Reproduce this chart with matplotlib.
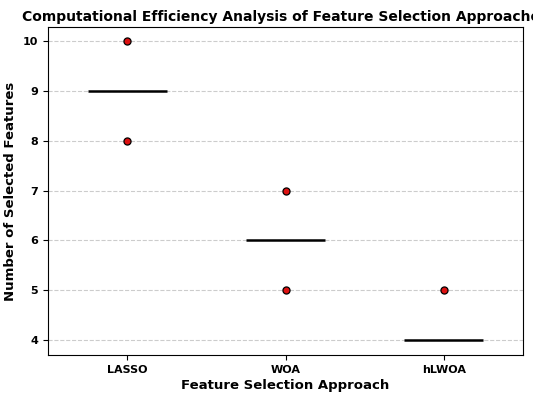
import matplotlib
matplotlib.use('Agg')
from matplotlib import pyplot as plt

approaches = ['LASSO', 'WOA', 'hLWOA']
point_x = [0, 0, 1, 1, 2]
point_y = [10, 8, 7, 5, 5]
median_vals = [9, 6, 4]

fig = plt.figure(figsize=(5.33, 4.0), dpi=100)
ax = fig.add_axes([48/533, 45/400, 475/533, 328/400])

ax.grid(axis='y', linestyle='--', color='#cccccc', linewidth=0.8)
ax.set_axisbelow(True)
for i, m in enumerate(median_vals):
    ax.hlines(m, i - 0.25, i + 0.25, color='black', linewidth=1.8)
ax.scatter(point_x, point_y, s=26, color='#dd1111', edgecolor='black', linewidth=0.9, zorder=3)

ax.set_xlim(-0.5, 2.5)
ax.set_ylim(3.7, 10.28)
ax.set_xticks(range(len(approaches)))
ax.set_xticklabels(approaches, fontweight='bold', fontsize=8)
ax.set_yticks(range(4, 11))
for lbl in ax.get_yticklabels():
    lbl.set_fontweight('bold')
    lbl.set_fontsize(8)
ax.set_xlabel('Feature Selection Approach', fontweight='bold', fontsize=9.5, labelpad=3)
ax.set_ylabel('Number of Selected Features', fontweight='bold', fontsize=9.5)
ax.set_title('Computational Efficiency Analysis of Feature Selection Approaches',
             fontweight='bold', fontsize=10, pad=4)

fig.savefig('out.png', dpi=100)
